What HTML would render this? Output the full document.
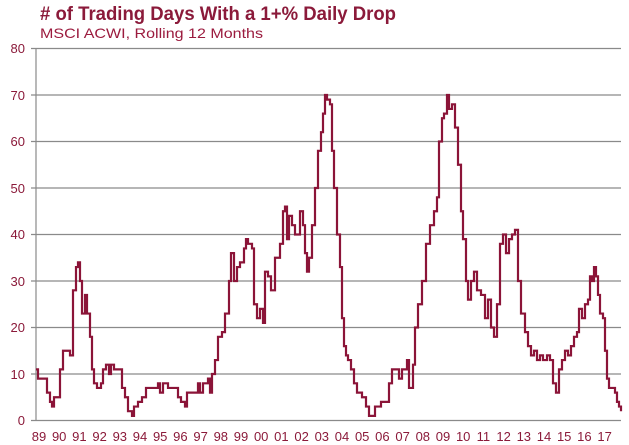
<!DOCTYPE html>
<html><head><meta charset="utf-8"><style>
html,body{margin:0;padding:0;background:#fff;}
svg{display:block;font-family:"Liberation Sans","DejaVu Sans",sans-serif;}
</style></head><body>
<svg width="629" height="445" viewBox="0 0 629 445" xmlns="http://www.w3.org/2000/svg">
<text x="40" y="20" font-size="19" font-weight="bold" fill="#8b1a3a" textLength="356" lengthAdjust="spacingAndGlyphs"># of Trading Days With a 1+% Daily Drop</text>
<text x="40" y="38" font-size="14" fill="#9b1b3e" textLength="223" lengthAdjust="spacingAndGlyphs">MSCI ACWI, Rolling 12 Months</text>
<g stroke="#8a8a8a" stroke-width="1.2">
<line x1="31" y1="48.5" x2="621" y2="48.5"/>
<line x1="31" y1="95" x2="621" y2="95"/>
<line x1="31" y1="141.5" x2="621" y2="141.5"/>
<line x1="31" y1="188" x2="621" y2="188"/>
<line x1="31" y1="234.5" x2="621" y2="234.5"/>
<line x1="31" y1="281" x2="621" y2="281"/>
<line x1="31" y1="327.5" x2="621" y2="327.5"/>
<line x1="31" y1="374" x2="621" y2="374"/>
<line x1="31" y1="420.5" x2="621" y2="420.5"/>
<line x1="36" y1="48" x2="36" y2="421"/>
</g>
<g font-size="13" fill="#8b1a3a" text-anchor="end">
<text x="25" y="53">80</text><text x="25" y="100">70</text><text x="25" y="146">60</text>
<text x="25" y="193">50</text><text x="25" y="239">40</text><text x="25" y="286">30</text>
<text x="25" y="332">20</text><text x="25" y="379">10</text><text x="25" y="425">0</text>
</g>
<g font-size="13" fill="#8b1a3a" text-anchor="middle">
<text x="39" y="441">89</text><text x="59.2" y="441">90</text><text x="79.4" y="441">91</text><text x="99.6" y="441">92</text><text x="119.8" y="441">93</text><text x="140" y="441">94</text><text x="160.2" y="441">95</text><text x="180.4" y="441">96</text><text x="200.6" y="441">97</text><text x="220.8" y="441">98</text><text x="241" y="441">99</text><text x="261.2" y="441">00</text><text x="281.4" y="441">01</text><text x="301.6" y="441">02</text><text x="321.8" y="441">03</text><text x="342" y="441">04</text><text x="362.2" y="441">05</text><text x="382.4" y="441">06</text><text x="402.6" y="441">07</text><text x="422.8" y="441">08</text><text x="443" y="441">09</text><text x="463.2" y="441">10</text><text x="483.4" y="441">11</text><text x="503.6" y="441">12</text><text x="523.8" y="441">13</text><text x="544" y="441">14</text><text x="564.2" y="441">15</text><text x="584.4" y="441">16</text><text x="604.6" y="441">17</text>
</g>
<g transform="translate(0,420.5) scale(1,-4.65)">
<path fill="none" stroke="#8b1438" stroke-width="2.2" vector-effect="non-scaling-stroke" d="M36 11 H38 V9 H44 V9 H47 V6 H50 V4 H52 V3 H54 V5 H58 V5 H60 V11 H63 V15 H68 V15 H70 V14 H73 V28 H76 V33 H78 V34 H80 V30 H82 V23 H85 V27 H87 V23 H90 V18 H92 V11 H94 V8 H97 V7 H101 V8 H103 V11 H106 V12 H109 V10 H111 V12 H114 V11 H120 V11 H122 V7 H125 V5 H128 V2 H132 V1 H134 V3 H138 V4 H142 V5 H146 V7 H156 V7 H158 V8 H160 V6 H163 V8 H168 V7 H176 V7 H178 V5 H181 V4 H185 V3 H187 V6 H196 V6 H198 V8 H200 V6 H203 V8 H208 V9 H210 V6 H212 V10 H215 V13 H218 V18 H222 V19 H225 V23 H229 V30 H231 V36 H234 V30 H237 V33 H240 V34 H244 V37 H246 V39 H248 V38 H252 V37 H254 V25 H257 V22 H260 V24 H263 V21 H265 V32 H268 V31 H271 V28 H275 V35 H280 V38 H283 V45 H285 V46 H287 V39 H289 V44 H292 V42 H295 V40 H300 V45 H303 V42 H305 V36 H307 V32 H309 V35 H312 V42 H315 V50 H318 V58 H321 V62 H323 V66 H325 V70 H327 V69 H330 V68 H332 V58 H334 V50 H337 V40 H340 V33 H342 V22 H344 V16 H346 V14 H348 V13 H351 V11 H354 V8 H357 V6 H362 V5 H366 V3 H369 V1 H373 V1 H375 V3 H379 V3 H381 V4 H386 V4 H389 V8 H392 V11 H397 V11 H399 V9 H402 V11 H405 V11 H407 V13 H409 V7 H413 V12 H415 V20 H418 V25 H422 V30 H426 V38 H430 V42 H434 V45 H437 V48 H439 V60 H442 V65 H444 V66 H447 V70 H449 V67 H452 V68 H455 V63 H458 V55 H461 V45 H463 V39 H466 V30 H468 V26 H471 V30 H474 V32 H477 V28 H481 V27 H485 V22 H488 V26 H491 V20 H494 V18 H497 V25 H500 V38 H503 V40 H506 V36 H509 V39 H512 V40 H515 V41 H518 V30 H521 V23 H525 V19 H528 V16 H531 V14 H534 V15 H537 V13 H540 V14 H543 V13 H547 V14 H550 V13 H553 V8 H556 V6 H559 V11 H562 V13 H565 V15 H568 V14 H571 V16 H574 V18 H577 V19 H579 V24 H582 V22 H585 V25 H588 V26 H590 V31 H592 V30 H594 V33 H596 V31 H598 V27 H600 V23 H603 V22 H605 V15 H607 V9 H609 V7 H612 V7 H615 V6 H617 V4 H619 V3 H621 V2"/>
</g>
</svg>
</body></html>
